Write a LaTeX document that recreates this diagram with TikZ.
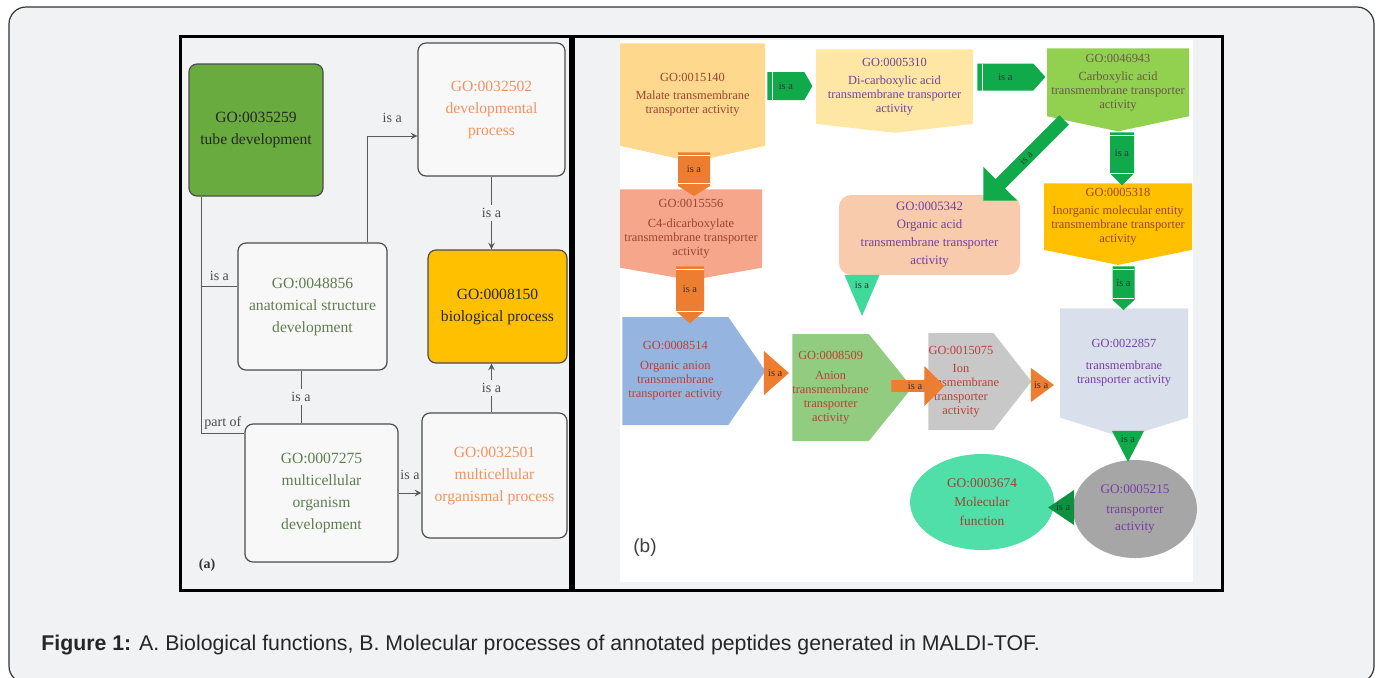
\documentclass[tikz,border=0pt]{standalone}
\usepackage{fontspec}
\setmainfont{Liberation Serif}
\newfontfamily\capfont{Liberation Sans}
\usetikzlibrary{shapes.symbols,shapes.geometric,shapes.arrows,calc,positioning}

\definecolor{pagebg}{HTML}{F1F2F4}
\definecolor{boxwhite}{HTML}{F8F8F8}
\definecolor{tubegreen}{HTML}{6AAB3F}
\definecolor{bioyellow}{HTML}{FFC000}
\definecolor{procorange}{HTML}{F2935F}
\definecolor{devgreen}{HTML}{5F7D4F}
\definecolor{linkgray}{HTML}{5A5A5A}
\definecolor{malatecol}{HTML}{FDD88D}
\definecolor{dicarbcol}{HTML}{FEE7A4}
\definecolor{carboxcol}{HTML}{92D050}
\definecolor{inorgcol}{HTML}{FFC000}
\definecolor{transmcol}{HTML}{D9DFEB}
\definecolor{c4col}{HTML}{F5A68B}
\definecolor{oanioncol}{HTML}{95B5E0}
\definecolor{anioncol}{HTML}{92CC80}
\definecolor{ioncol}{HTML}{C8C8C8}
\definecolor{oacidcol}{HTML}{F8CBAD}
\definecolor{tractcol}{HTML}{A6A6A6}
\definecolor{molfcol}{HTML}{50DFA8}
\definecolor{isagreen}{HTML}{10AA4B}
\definecolor{isaorange}{HTML}{ED7D31}
\definecolor{isateal}{HTML}{3FD999}
\definecolor{txtbrown}{HTML}{9C4430}
\definecolor{txtred}{HTML}{B8403A}
\definecolor{txtpurple}{HTML}{7540A0}
\definecolor{txtolive}{HTML}{6A5A48}

\tikzset{
  abox/.style={draw=black!70, line width=0.6pt, rounded corners=4pt, fill=boxwhite,
    align=center, font=\fontsize{7.8}{11}\selectfont, inner sep=2pt},
  link/.style={draw=linkgray, line width=0.5pt},
  linklabel/.style={font=\fontsize{7}{7}\selectfont, text=black!70, inner sep=1.5pt},
  gotext/.style={align=center, font=\fontsize{6.2}{7}\selectfont, inner sep=0pt},
  godown/.style={gotext, signal, signal to=south, anchor=north},
  goright/.style={gotext, signal, signal to=east, anchor=west},
  isatext/.style={font=\fontsize{5.2}{5.2}\selectfont, text=black!80, inner sep=0pt},
  isadown/.style={isatext, signal, signal to=south, anchor=north,
    path picture={\draw[white, line width=0.5pt]
      ([yshift=-1.5pt]path picture bounding box.north west) -- ([yshift=-1.5pt]path picture bounding box.north east)
      ([yshift=6pt]path picture bounding box.south west) -- ([yshift=6pt]path picture bounding box.south east);}},
  isaright/.style={isatext, signal, signal to=east, anchor=west,
    path picture={\draw[white, line width=0.5pt]
      ([xshift=2.5pt]path picture bounding box.north west) -- ([xshift=2.5pt]path picture bounding box.south west);}},
  isatri/.style={isatext, isosceles triangle, isosceles triangle stretches, inner sep=-3pt, anchor=apex},
  isaarrow/.style={isatext, single arrow, single arrow head indent=0pt, anchor=tip},
}

\begin{document}
\begin{tikzpicture}[x=0.5pt, y=-0.5pt, >=stealth]
  \useasboundingbox (0,0) rectangle (1380,677);
  % Cornice e pannelli
  \draw[draw=black!80, fill=pagebg, rounded corners=8.5pt, line width=0.6pt] (9,7) rectangle (1374,683);
  \draw[line width=1.5pt, fill=pagebg] (180,36) rectangle (570,590);
  \draw[line width=1.5pt, fill=pagebg] (573,36) rectangle (1222,590);
  \fill[white] (620,40) rectangle (1193,582);

  % Pannello (a)
  \node[abox, fill=tubegreen, minimum width=67pt, minimum height=66pt, text=black!85] (tube) at (256,130) {GO:0035259\\tube development};
  \node[abox, minimum width=73.5pt, minimum height=66.5pt, text=procorange] (devproc) at (491.5,109.5) {GO:0032502\\developmental\\process};
  \node[abox, minimum width=74.5pt, minimum height=63.5pt, text=devgreen] (anat) at (312.5,306.5) {GO:0048856\\anatomical structure\\development};
  \node[abox, fill=bioyellow, minimum width=69.5pt, minimum height=56.5pt, text=black!85] (bio) at (497.5,306.5) {GO:0008150\\biological process};
  \node[abox, minimum width=76.5pt, minimum height=69pt, text=devgreen] (mcod) at (321.5,493) {GO:0007275\\multicellular\\organism\\development};
  \node[abox, minimum width=72.5pt, minimum height=62.5pt, text=procorange] (mcop) at (494.5,475.5) {GO:0032501\\multicellular\\organismal process};
  \node[font=\fontsize{7}{7}\selectfont\bfseries, text=black!80] (alabel) at (207,565) {(a)};

  % Relazioni (a)
  \draw[link, ->] ([xshift=27.25pt]anat.north) |- ([yshift=-13.25pt]devproc.west)
    node[linklabel, pos=0.75, above=5pt] {is a};
  \draw[link, ->] (devproc.south) -- (devproc.south |- bio.north)
    node[linklabel, midway, fill=pagebg] {is a};
  \draw[link] ([xshift=6.5pt]tube.south west) |- ([yshift=-5pt]mcod.north west)
    node[linklabel, pos=0.75, above=0pt] {part of};
  \draw[link] ([xshift=6.5pt, yshift=10.25pt]tube.south west |- anat.west) -- ([yshift=10.25pt]anat.west)
    node[linklabel, midway, above=1pt] {is a};
  \draw[link] ([xshift=-5.75pt]anat.south) -- ([xshift=-5.75pt]anat.south |- mcod.north)
    node[linklabel, midway, fill=pagebg] {is a};
  \draw[link, ->] (mcod.east) -- (mcod.east -| mcop.west)
    node[linklabel, midway, above=5pt] {is a};
  \draw[link, ->] ([xshift=-1.5pt]mcop.north) -- ([xshift=-1.5pt]mcop.north |- bio.south)
    node[linklabel, midway, fill=pagebg] {is a};

  % Pannello (b)
  \node[godown, fill=malatecol, text=txtbrown, minimum width=72.5pt, minimum height=57.5pt, signal pointer angle=155] (malate) at (692.5,43) {GO:0015140\\[2pt]Malate transmembrane\\transporter activity};
  \node[godown, fill=dicarbcol, text=txtpurple, minimum width=78.5pt, minimum height=41pt, signal pointer angle=167] (dicarb) at (894.5,49) {GO:0005310\\[2pt]Di-carboxylic acid\\transmembrane transporter\\activity};
  \node[godown, fill=carboxcol, text=txtolive, minimum width=71pt, minimum height=41pt, signal pointer angle=156] (carbox) at (1118,48) {GO:0046943\\[2pt]Carboxylic acid\\transmembrane transporter\\activity};
  \node[godown, fill=inorgcol, text=txtbrown, minimum width=74pt, minimum height=40pt, signal pointer angle=157] (inorg) at (1118,183) {GO:0005318\\[2pt]Inorganic molecular entity\\transmembrane transporter\\activity};
  \node[godown, fill=transmcol, text=txtpurple, minimum width=64pt, minimum height=62pt, signal pointer angle=145] (transm) at (1124,308) {GO:0022857\\[4pt]transmembrane\\transporter activity};
  \node[godown, fill=c4col, text=txtbrown, minimum width=71pt, minimum height=45pt, signal pointer angle=160] (c4) at (691,189) {GO:0015556\\[3pt]C4-dicarboxylate\\transmembrane transporter\\activity};
  \node[goright, fill=oanioncol, text=txtred, minimum width=71.5pt, minimum height=54pt, signal pointer angle=111] (oanion) at (622,371) {GO:0008514\\[3pt]Organic anion\\transmembrane\\transporter activity};
  \node[goright, fill=anioncol, text=txtred, minimum width=53pt, minimum height=53.5pt, signal pointer angle=102] (anion) at (792,387.5) {GO:0008509\\[3pt]Anion\\transmembrane\\transporter\\activity};
  \node[goright, fill=ioncol, text=txtred, inner xsep=-3pt, minimum width=51.5pt, minimum height=48.5pt, signal pointer angle=104] (ion) at (928,381.5) {GO:0015075\\[2pt]Ion\\transmembrane\\transporter\\activity};
  \node[gotext, rectangle, rounded corners=6pt, fill=oacidcol, text=txtpurple, font=\fontsize{6.4}{9}\selectfont, minimum width=90.5pt, minimum height=40pt] (oacid) at (929.5,235) {GO:0005342\\Organic acid\\transmembrane transporter\\activity};
  \node[gotext, ellipse, fill=tractcol, text=txtpurple, font=\fontsize{6.6}{8.2}\selectfont, minimum width=62pt, minimum height=49pt] (tract) at (1135,509) {GO:0005215\\[2pt]transporter\\activity};
  \node[gotext, ellipse, fill=molfcol, text=txtbrown, font=\fontsize{6.7}{9.5}\selectfont, minimum width=72pt, minimum height=48pt] (molf) at (982,502) {GO:0003674\\Molecular\\function};

  % Relazioni (b)
  \node[isaright, fill=isagreen, minimum width=22.5pt, minimum height=14pt, signal pointer angle=120] (a1) at (767,86) {is a};
  \node[isaright, fill=isagreen, minimum width=34pt, minimum height=13.5pt, signal pointer angle=96] (a2) at (977,77) {is a};
  \node[isadown, fill=isagreen, minimum width=12pt, minimum height=24pt, signal pointer angle=90] (a3) at (1122,132) {is a};
  \node[isadown, fill=isagreen, minimum width=11pt, minimum height=20pt, signal pointer angle=95] (a4) at (1123.5,266) {is a};
  \node[isatri, fill=isagreen, shape border rotate=-90, minimum width=16pt, minimum height=15.5pt] (a5) at (1128,463) {is a};
  \node[isatri, fill=isagreen!85!black, shape border rotate=180, minimum width=17.5pt, minimum height=13pt] (a6) at (1047,507.5) {is a};
  \node[isadown, fill=isaorange, minimum width=16pt, minimum height=19pt, signal pointer angle=116] (a7) at (694,152) {is a};
  \node[isadown, fill=isaorange, minimum width=14pt, minimum height=25.5pt, signal pointer angle=99] (a8) at (690,266) {is a};
  \node[isatri, fill=isaorange, minimum width=22pt, minimum height=12.5pt] (a9) at (790,373) {is a};
  \node[isaarrow, fill=isaorange, minimum height=26.5pt, minimum width=20pt, single arrow head extend=4.75pt] (a10) at (945,386) {is a};
  \node[isatri, fill=isaorange, minimum width=17pt, minimum height=11.5pt] (a11) at (1055,385) {is a};
  \node[isatri, fill=isateal, shape border rotate=-90, minimum width=17.5pt, minimum height=20.5pt] (a12) at (862,317) {is a};
  \node[isaarrow, fill=isagreen, rotate=45, shape border rotate=180, minimum height=57pt, minimum width=24pt, single arrow head extend=5pt] (a13) at (983,201) {is a};
  \node[font=\capfont\fontsize{9.5}{9.5}\selectfont, text=black!75] (blabel) at (645,548) {(b)};

  % Didascalia
  \node[anchor=west, font=\capfont\fontsize{10.65}{10.65}\selectfont, text=black!85, inner sep=0pt] (caption) at (41,645) {\textbf{Figure 1:} A. Biological functions, B. Molecular processes of annotated peptides generated in MALDI-TOF.};
\end{tikzpicture}
\end{document}
